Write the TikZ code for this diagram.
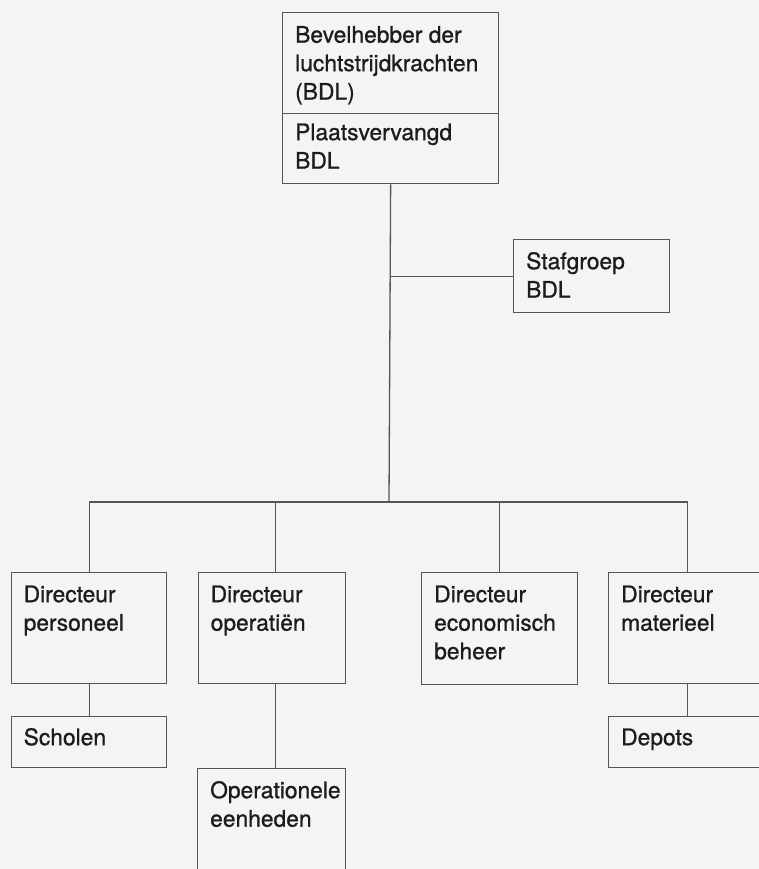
\documentclass[tikz,border=0pt]{standalone}
\usepackage{fontspec}
\setmainfont{TeX Gyre Heros}[RawFeature={embolden=0.9}]
\begin{document}
\definecolor{paper}{HTML}{F4F4F4}
\definecolor{rule}{HTML}{555555}
\definecolor{ink}{HTML}{1C1C1C}
\newcommand{\orgfont}{\fontsize{22.8}{28.5}\selectfont}
\begin{tikzpicture}[x=1pt,y=-1pt,
  unit/.style={draw=rule, line width=1.3pt, rectangle, inner sep=0pt, anchor=north west},
  label text/.style={anchor=north west, inner sep=0pt, align=left, font=\orgfont, text=ink},
  link/.style={draw=rule, line width=1.3pt}]
  % page
  \fill[paper] (0,0) rectangle (759,869);
  \useasboundingbox (0,0) rectangle (759,869);
  \clip (0,0) rectangle (759,869);

  % command
  \node[unit, minimum width=216pt, minimum height=101pt] (bdl) at (282,12) {};
  \node[unit, minimum width=216pt, minimum height=70pt] (pbdl) at (282,113) {};
  \node[unit, minimum width=156pt, minimum height=73pt] (staf) at (513,239) {};

  % directorates
  \node[unit, minimum width=155pt, minimum height=111pt] (dp) at (11,572) {};
  \node[unit, minimum width=147pt, minimum height=111pt] (dop) at (198,572) {};
  \node[unit, minimum width=156pt, minimum height=112pt] (deb) at (421,572) {};
  \node[unit, minimum width=158pt, minimum height=111pt] (dm) at (608,572) {};

  % subordinate units
  \node[unit, minimum width=155pt, minimum height=51pt] (sch) at (11,716) {};
  \node[unit, minimum width=148pt, minimum height=140pt] (ope) at (197,768) {};
  \node[unit, minimum width=158pt, minimum height=51pt] (dep) at (608,716) {};

  % texts
  \node[label text] at ([shift={(13pt,-10.5pt)}]bdl.north west) {\strut Bevelhebber der\\luchtstrijdkrachten\\(BDL)};
  \node[label text] at ([shift={(13pt,-7pt)}]pbdl.north west) {\strut Plaatsvervangd\\BDL};
  \node[label text] at ([shift={(13pt,-10pt)}]staf.north west) {\strut Stafgroep\\BDL};
  \node[label text] at ([shift={(12.5pt,-10pt)}]dp.north west) {\strut Directeur\\personeel};
  \node[label text] at ([shift={(12.5pt,-10pt)}]dop.north west) {\strut Directeur\\operatiën};
  \node[label text] at ([shift={(13pt,-10pt)}]deb.north west) {\strut Directeur\\economisch\\beheer};
  \node[label text] at ([shift={(13pt,-10pt)}]dm.north west) {\strut Directeur\\materieel};
  \node[label text] at ([shift={(12.5pt,-9pt)}]sch.north west) {\strut Scholen};
  \node[label text] at ([shift={(13pt,-10pt)}]ope.north west) {\strut Operationele\\eenheden};
  \node[label text] at ([shift={(13pt,-9pt)}]dep.north west) {\strut Depots};

  % connectors
  \coordinate (bus) at (389,502);
  \path[link] (pbdl.south) -- (bus);
  \path[link] (staf.west) -- (staf.west -| pbdl.south);
  \path[link] (dp.north) |- (bus);
  \path[link] ([xshift=3.5pt]dop.north) |- (bus);
  \path[link] (deb.north) |- (bus);
  \path[link] (dm.north) |- (bus);
  \path[link] (dp.south) -- (sch.north);
  \path[link] ([xshift=3.5pt]dop.south) -- ([xshift=3.5pt]dop.south |- ope.north);
  \path[link] (dm.south) -- (dep.north);
\end{tikzpicture}
\end{document}
